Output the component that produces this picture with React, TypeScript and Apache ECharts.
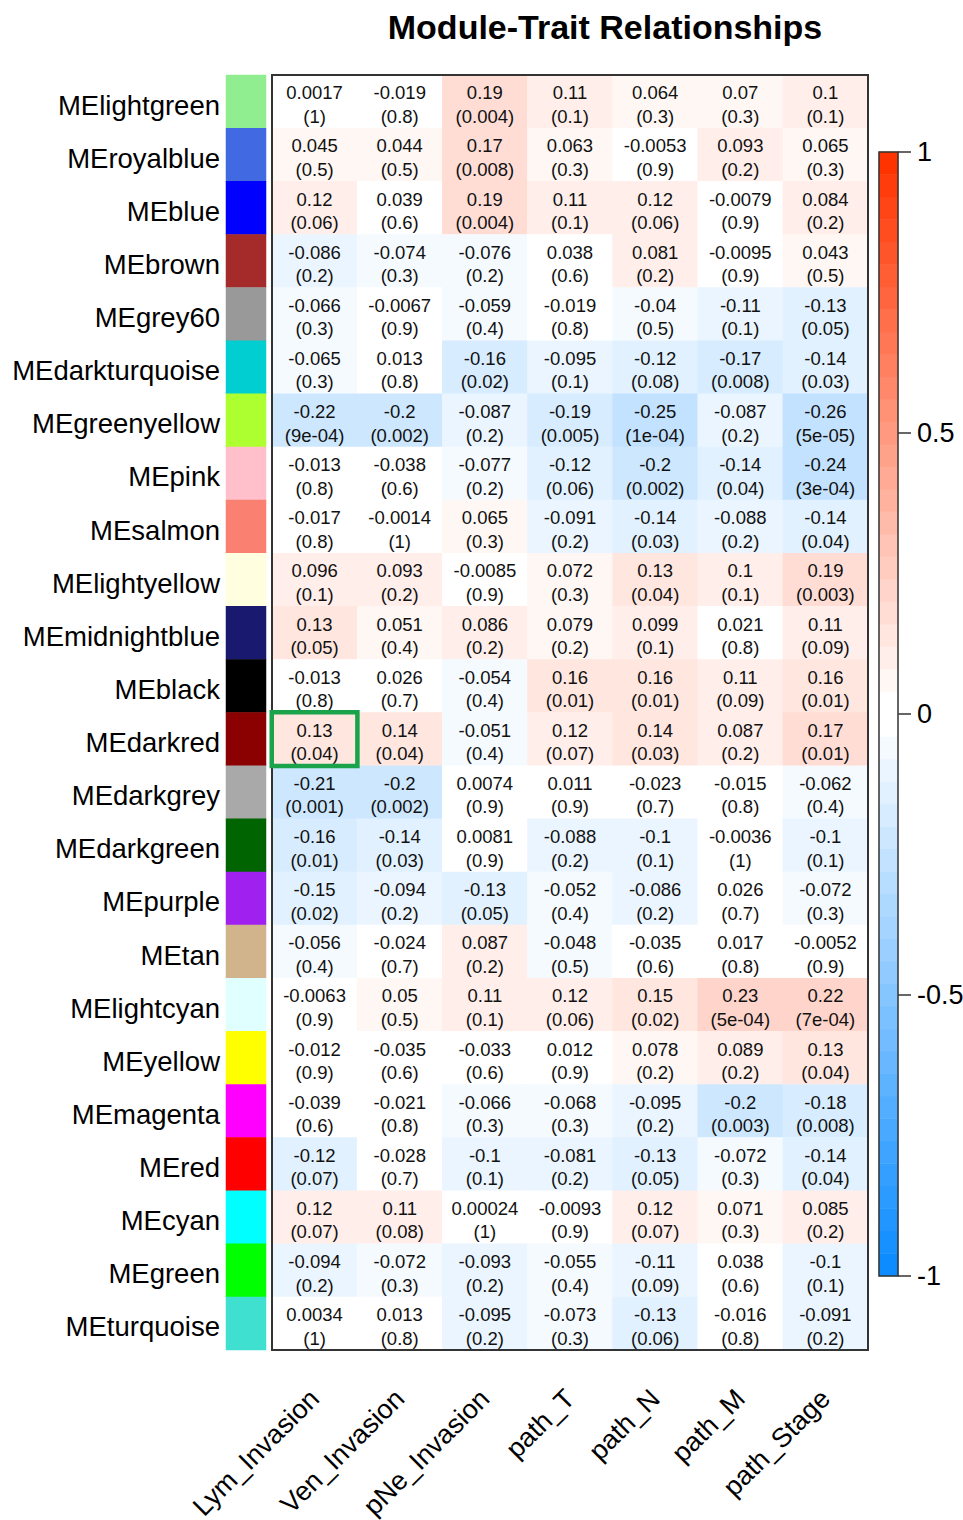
import React, { useEffect, useRef } from 'react';
import * as echarts from 'echarts';

const FONT = '"Liberation Sans", Arial, Helvetica, sans-serif';

const traits = ['Lym_Invasion', 'Ven_Invasion', 'pNe_Invasion', 'path_T', 'path_N', 'path_M', 'path_Stage'];

const modules = [
  'MElightgreen', 'MEroyalblue', 'MEblue', 'MEbrown', 'MEgrey60', 'MEdarkturquoise',
  'MEgreenyellow', 'MEpink', 'MEsalmon', 'MElightyellow', 'MEmidnightblue', 'MEblack',
  'MEdarkred', 'MEdarkgrey', 'MEdarkgreen', 'MEpurple', 'MEtan', 'MElightcyan',
  'MEyellow', 'MEmagenta', 'MEred', 'MEcyan', 'MEgreen', 'MEturquoise',
];

const moduleColors = [
  '#90EE90', '#4169E1', '#0000FF', '#A52A2A', '#999999', '#00CED1',
  '#ADFF2F', '#FFC0CB', '#FA8072', '#FFFFE0', '#191970', '#000000',
  '#8B0000', '#A9A9A9', '#006400', '#A020F0', '#D2B48C', '#E0FFFF',
  '#FFFF00', '#FF00FF', '#FF0000', '#00FFFF', '#00FF00', '#40E0D0',
];

const corr = [
  [0.0017, -0.019, 0.19, 0.11, 0.064, 0.07, 0.1],
  [0.045, 0.044, 0.17, 0.063, -0.0053, 0.093, 0.065],
  [0.12, 0.039, 0.19, 0.11, 0.12, -0.0079, 0.084],
  [-0.086, -0.074, -0.076, 0.038, 0.081, -0.0095, 0.043],
  [-0.066, -0.0067, -0.059, -0.019, -0.04, -0.11, -0.13],
  [-0.065, 0.013, -0.16, -0.095, -0.12, -0.17, -0.14],
  [-0.22, -0.2, -0.087, -0.19, -0.25, -0.087, -0.26],
  [-0.013, -0.038, -0.077, -0.12, -0.2, -0.14, -0.24],
  [-0.017, -0.0014, 0.065, -0.091, -0.14, -0.088, -0.14],
  [0.096, 0.093, -0.0085, 0.072, 0.13, 0.1, 0.19],
  [0.13, 0.051, 0.086, 0.079, 0.099, 0.021, 0.11],
  [-0.013, 0.026, -0.054, 0.16, 0.16, 0.11, 0.16],
  [0.13, 0.14, -0.051, 0.12, 0.14, 0.087, 0.17],
  [-0.21, -0.2, 0.0074, 0.011, -0.023, -0.015, -0.062],
  [-0.16, -0.14, 0.0081, -0.088, -0.1, -0.0036, -0.1],
  [-0.15, -0.094, -0.13, -0.052, -0.086, 0.026, -0.072],
  [-0.056, -0.024, 0.087, -0.048, -0.035, 0.017, -0.0052],
  [-0.0063, 0.05, 0.11, 0.12, 0.15, 0.23, 0.22],
  [-0.012, -0.035, -0.033, 0.012, 0.078, 0.089, 0.13],
  [-0.039, -0.021, -0.066, -0.068, -0.095, -0.2, -0.18],
  [-0.12, -0.028, -0.1, -0.081, -0.13, -0.072, -0.14],
  [0.12, 0.11, 0.00024, -0.0093, 0.12, 0.071, 0.085],
  [-0.094, -0.072, -0.093, -0.055, -0.11, 0.038, -0.1],
  [0.0034, 0.013, -0.095, -0.073, -0.13, -0.016, -0.091],
];

const pvals = [
  ['1', '0.8', '0.004', '0.1', '0.3', '0.3', '0.1'],
  ['0.5', '0.5', '0.008', '0.3', '0.9', '0.2', '0.3'],
  ['0.06', '0.6', '0.004', '0.1', '0.06', '0.9', '0.2'],
  ['0.2', '0.3', '0.2', '0.6', '0.2', '0.9', '0.5'],
  ['0.3', '0.9', '0.4', '0.8', '0.5', '0.1', '0.05'],
  ['0.3', '0.8', '0.02', '0.1', '0.08', '0.008', '0.03'],
  ['9e-04', '0.002', '0.2', '0.005', '1e-04', '0.2', '5e-05'],
  ['0.8', '0.6', '0.2', '0.06', '0.002', '0.04', '3e-04'],
  ['0.8', '1', '0.3', '0.2', '0.03', '0.2', '0.04'],
  ['0.1', '0.2', '0.9', '0.3', '0.04', '0.1', '0.003'],
  ['0.05', '0.4', '0.2', '0.2', '0.1', '0.8', '0.09'],
  ['0.8', '0.7', '0.4', '0.01', '0.01', '0.09', '0.01'],
  ['0.04', '0.04', '0.4', '0.07', '0.03', '0.2', '0.01'],
  ['0.001', '0.002', '0.9', '0.9', '0.7', '0.8', '0.4'],
  ['0.01', '0.03', '0.9', '0.2', '0.1', '1', '0.1'],
  ['0.02', '0.2', '0.05', '0.4', '0.2', '0.7', '0.3'],
  ['0.4', '0.7', '0.2', '0.5', '0.6', '0.8', '0.9'],
  ['0.9', '0.5', '0.1', '0.06', '0.02', '5e-04', '7e-04'],
  ['0.9', '0.6', '0.6', '0.9', '0.2', '0.2', '0.04'],
  ['0.6', '0.8', '0.3', '0.3', '0.2', '0.003', '0.008'],
  ['0.07', '0.7', '0.1', '0.2', '0.05', '0.3', '0.04'],
  ['0.07', '0.08', '1', '0.9', '0.07', '0.3', '0.2'],
  ['0.2', '0.3', '0.2', '0.4', '0.09', '0.6', '0.1'],
  ['1', '0.8', '0.2', '0.3', '0.06', '0.8', '0.2'],
];

// highlighted cell (module row, trait column)
const highlight = { module: 'MEdarkred', trait: 'Lym_Invasion' };

const NCOL = 50;
const colorRange = [-1, 1];
const colorbarTicks = { min: -1, max: 1, interval: 0.5 };

// WGCNA blueWhiteRed palette
function blueWhiteRed(n: number): string[] {
  const blueEnd = [0.05, 0.55, 1];
  const redEnd = [1, 0.2, 0];
  const half = n / 2;
  const out: number[][] = [];
  for (let k = 0; k < half; k++) {
    const f = k / (half - 1);
    out.push(blueEnd.map((b) => b + (1 - b) * f));
  }
  for (let k = 0; k < half; k++) {
    const f = (half - 1 - k) / (half - 1);
    out.push(redEnd.map((r) => r + (1 - r) * f));
  }
  return out.map((c) => 'rgb(' + c.map((x) => Math.round(x * 255)).join(',') + ')');
}

export default function App() {
  const ref = useRef<HTMLDivElement>(null);

  useEffect(() => {
    const chart = echarts.init(ref.current!, null, { renderer: 'svg' });
    const palette = blueWhiteRed(NCOL);
    const step = (colorRange[1] - colorRange[0]) / NCOL;
    const r2 = (x: number) => Math.round(x * 10000) / 10000;
    const pieces = palette.map((color, i) => {
      const lo = r2(colorRange[0] + step * i);
      const hi = r2(colorRange[0] + step * (i + 1));
      return i === 0 ? { gte: lo, lte: hi, color } : { gt: lo, lte: hi, color };
    });

    const mainData: any[] = [];
    corr.forEach((row, r) => row.forEach((v, c) => mainData.push([c, r, v])));

    const swatchData = modules.map((m, i) => [0, i, i]);

    const binNames = palette.map((_, i) => 'b' + i);
    const barData = palette.map((_, i) => [0, i, r2(colorRange[0] + step * (i + 0.5))]);

    const hr = modules.indexOf(highlight.module);
    const hc = traits.indexOf(highlight.trait);

    const option: any = {
      animation: false,
      backgroundColor: '#fff',
      textStyle: { fontFamily: FONT },
      graphic: [
        {
          type: 'text',
          x: 605,
          y: 10,
          style: {
            text: 'Module-Trait Relationships',
            textAlign: 'center',
            fill: '#000',
            font: 'bold 34px ' + FONT,
          },
        },
      ],
      grid: [
        { left: 272, top: 75, width: 596, height: 1275, show: true, borderColor: '#333', borderWidth: 2, backgroundColor: 'transparent', z: 3, outerBoundsMode: 'none', containLabel: false },
        { left: 226, top: 75, width: 40, height: 1275, outerBoundsMode: 'none', containLabel: false },
        { left: 879, top: 152, width: 19, height: 1124, show: true, borderColor: '#333', borderWidth: 1.5, backgroundColor: 'transparent', z: 3, outerBoundsMode: 'none', containLabel: false },
      ],
      xAxis: [
        {
          type: 'category', gridIndex: 0, data: traits, position: 'bottom',
          axisLine: { show: false }, axisTick: { show: false }, splitLine: { show: false },
          axisLabel: { rotate: 45, fontSize: 27, color: '#000', margin: 44, fontFamily: FONT, interval: 0 },
        },
        { type: 'category', gridIndex: 1, data: ['c'], show: false },
        { type: 'category', gridIndex: 2, data: ['c'], show: false },
      ],
      yAxis: [
        { type: 'category', gridIndex: 0, data: modules, inverse: true, show: false },
        {
          type: 'category', gridIndex: 1, data: modules, inverse: true,
          axisLine: { show: false }, axisTick: { show: false }, splitLine: { show: false },
          axisLabel: {
            fontSize: 27.5, color: '#000', margin: 6, fontFamily: FONT, interval: 0,
            verticalAlign: 'top', lineHeight: 27, padding: [-10, 0, 0, 0],
          },
        },
        { type: 'category', gridIndex: 2, data: binNames, show: false },
        {
          type: 'value', gridIndex: 2, position: 'right',
          min: colorbarTicks.min, max: colorbarTicks.max, interval: colorbarTicks.interval,
          axisLine: { show: false },
          axisTick: { show: true, length: 13, lineStyle: { color: '#333', width: 1.5 } },
          splitLine: { show: false },
          axisLabel: { fontSize: 27, color: '#000', margin: 19, fontFamily: FONT, padding: [4, 0, 0, 0] },
        },
      ],
      visualMap: [
        { type: 'piecewise', show: false, dimension: 2, seriesIndex: [0, 2], pieces },
        {
          type: 'piecewise', show: false, dimension: 2, seriesIndex: 1,
          pieces: moduleColors.map((color, i) => ({ value: i, color })),
        },
        {
          type: 'piecewise', show: false, dimension: 2, seriesIndex: 3,
          pieces: [{ gte: -1, lte: 1, color: 'rgba(255,255,255,0)' }],
        },
      ],
      series: [
        {
          type: 'heatmap', xAxisIndex: 0, yAxisIndex: 0, data: mainData,
          emphasis: { disabled: true },
          label: {
            show: true, fontSize: 18.5, lineHeight: 23.5, color: '#111', fontFamily: FONT,
            offset: [0, 3],
            formatter: (p: any) => `${p.value[2]}\n(${pvals[p.value[1]][p.value[0]]})`,
          },
        },
        {
          type: 'heatmap', xAxisIndex: 1, yAxisIndex: 1, data: swatchData,
          emphasis: { disabled: true },
        },
        {
          type: 'heatmap', xAxisIndex: 2, yAxisIndex: 2, data: barData,
          emphasis: { disabled: true },
        },
        {
          type: 'heatmap', xAxisIndex: 0, yAxisIndex: 0, z: 5,
          data: [[hc, hr, corr[hr][hc]]],
          itemStyle: { borderColor: '#1aa34a', borderWidth: 4.5 },
          emphasis: { disabled: true },
          label: { show: false },
        },
      ],
    };

    chart.setOption(option);
    return () => chart.dispose();
  }, []);

  return (
    <div
      ref={ref}
      style={{ position: 'absolute', left: 0, top: 0, width: 963, height: 1520, background: '#fff' }}
    />
  );
}
